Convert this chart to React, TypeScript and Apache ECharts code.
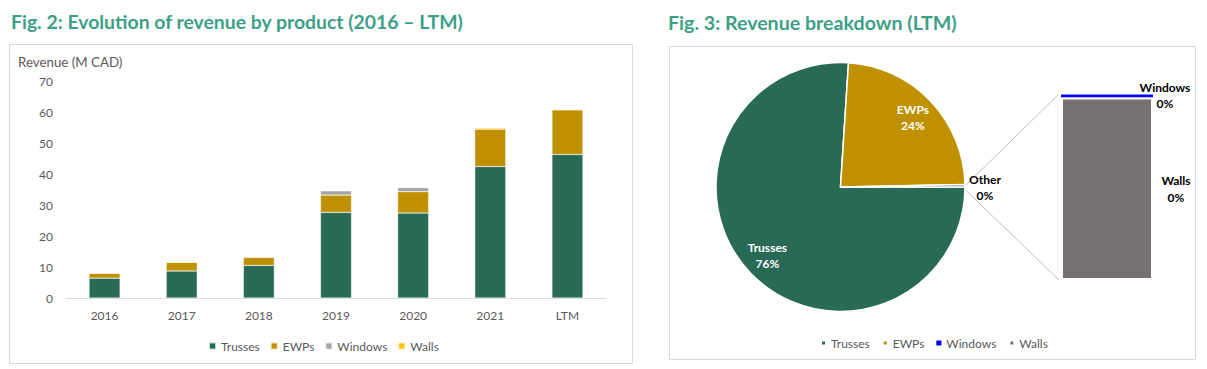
import React, { useEffect, useRef } from "react";
import * as echarts from "echarts";

const categories = ["2016", "2017", "2018", "2019", "2020", "2021", "LTM"];
const trusses = [6.4, 8.7, 10.5, 27.6, 27.4, 42.4, 46.3];
const ewps = [1.6, 2.8, 2.6, 5.6, 6.9, 12.1, 14.4];
const windows = [0.1, 0.1, 0.2, 1.4, 1.3, 0, 0.0033];
const walls = [0, 0, 0, 0, 0.2, 0.4, 0.2];
const seriesNames = ["Trusses", "EWPs", "Windows", "Walls"];
const yTicks = { min: 0, max: 70, interval: 10 };

const FONT = "Lato";
const GREEN = "#286a56";
const GOLD = "#bf9000";
const TITLE = "#3da085";
const AXIS_TEXT = "#595959";

const LTM = categories.indexOf("LTM");
const otherTotal = windows[LTM] + walls[LTM];
const pieTotal = trusses[LTM] + ewps[LTM] + otherTotal;
const pct = (v: number) => Math.round((v / pieTotal) * 100) + "%";

function leftOption(): any {
  const colors = [GREEN, GOLD, "#a5a5a5", "#ffc000"];
  const vals = [trusses, ewps, windows, walls];
  return {
    animation: false,
    title: [
      {
        text: "Fig. 2: Evolution of revenue by product (2016 – LTM)",
        left: 11,
        top: 12,
        padding: 0,
        textStyle: { fontFamily: FONT, fontWeight: "bold", fontSize: 19.4, color: TITLE },
      },
      {
        text: "Revenue (M CAD)",
        left: 18,
        top: 55,
        padding: 0,
        textStyle: { fontFamily: FONT, fontWeight: "normal", fontSize: 13.3, color: AXIS_TEXT },
      },
    ],
    grid: { left: 66, right: 44, top: 81, bottom: 71 },
    xAxis: {
      type: "category",
      data: categories,
      axisLine: { lineStyle: { color: "#d9d9d9" } },
      axisTick: { show: false },
      axisLabel: { color: AXIS_TEXT, fontFamily: FONT, fontSize: 12, margin: 11 },
    },
    yAxis: {
      type: "value",
      min: yTicks.min,
      max: yTicks.max,
      interval: yTicks.interval,
      splitLine: { show: false },
      axisLine: { show: false },
      axisTick: { show: false },
      axisLabel: { color: AXIS_TEXT, fontFamily: FONT, fontSize: 12, margin: 13 },
    },
    legend: {
      data: seriesNames,
      left: 203,
      top: 335,
      icon: "rect",
      itemWidth: 7,
      itemHeight: 7,
      itemGap: 10,
      textStyle: { color: AXIS_TEXT, fontFamily: FONT, fontSize: 12 },
    },
    graphic: [
      {
        type: "rect",
        shape: { x: 9.5, y: 44.5, width: 623, height: 319 },
        style: { fill: "none", stroke: "#d9d9d9", lineWidth: 1 },
        z: -1,
      },
    ],
    series: seriesNames.map((n, i) => ({
      name: n,
      type: "bar",
      stack: "rev",
      barWidth: 31,
      data: vals[i],
      itemStyle: { color: colors[i], borderColor: "rgba(255,255,255,0.7)", borderWidth: 0.5 },
    })),
  };
}

function rightOption(): any {
  const cx = 190.5;
  const cy = 187;
  const r = 124.5;
  const gLeft = 411;
  const gTop = 94.5;
  const gW = 92;
  const gH = 185.5;
  const pieData = [
    { name: "Trusses", value: trusses[LTM], itemStyle: { color: GREEN } },
    { name: "EWPs", value: ewps[LTM], itemStyle: { color: GOLD } },
    { name: "Other", value: otherTotal, itemStyle: { color: "#767171" } },
  ];
  const boldBlack = { fontFamily: FONT, fontWeight: "bold", fontSize: 12, color: "#000", lineHeight: 16.5 };
  return {
    animation: false,
    title: {
      text: "Fig. 3: Revenue breakdown (LTM)",
      left: 18,
      top: 12,
      padding: 0,
      textStyle: { fontFamily: FONT, fontWeight: "bold", fontSize: 19.6, color: TITLE },
    },
    legend: {
      data: seriesNames,
      left: 165,
      top: 332,
      icon: "rect",
      itemWidth: 5,
      itemHeight: 5,
      itemGap: 12,
      textStyle: { color: AXIS_TEXT, fontFamily: FONT, fontSize: 12 },
    },
    grid: { left: gLeft, top: gTop, width: gW, height: gH },
    xAxis: { type: "category", data: ["Other"], show: false },
    yAxis: { type: "value", min: 0, max: otherTotal, show: false },
    graphic: [
      {
        type: "rect",
        shape: { x: 19.5, y: 46.5, width: 526, height: 313 },
        style: { fill: "none", stroke: "#d9d9d9", lineWidth: 1 },
        z: -1,
      },
      {
        type: "line",
        shape: { x1: cx + r + 1, y1: cy - 2, x2: gLeft - 2, y2: gTop - 0.5 },
        style: { stroke: "#bfbfbf", lineWidth: 1 },
      },
      {
        type: "line",
        shape: { x1: cx + r + 1, y1: cy + 3.5, x2: gLeft - 2, y2: gTop + gH },
        style: { stroke: "#bfbfbf", lineWidth: 1 },
      },
    ],
    series: [
      {
        name: "LTM",
        type: "pie",
        center: [cx, cy],
        radius: r,
        startAngle: 0,
        clockwise: true,
        avoidLabelOverlap: false,
        itemStyle: { borderColor: "#fff", borderWidth: 1.5 },
        label: { show: false },
        labelLine: { show: false },
        data: pieData.map((d) =>
          d.name === "Other"
            ? {
                ...d,
                label: {
                  show: true,
                  position: "outside",
                  distanceToLabelLine: 4,
                  padding: [4, 0, 0, 0],
                  formatter: (p: any) => `{a|${p.name}}\n{a|${pct(p.value)}}`,
                  rich: { a: { ...boldBlack, width: 32, align: "center" } },
                },
                labelLine: { show: false, length: 0.01, length2: 0.01 },
              }
            : d
        ),
      },
      {
        name: "LTM labels",
        type: "pie",
        center: [cx, cy],
        radius: [70, r],
        startAngle: 0,
        clockwise: true,
        silent: true,
        legendHoverLink: false,
        itemStyle: { color: "rgba(0,0,0,0)" },
        label: {
          show: true,
          position: "inside",
          formatter: (p: any) => `${p.name}\n${pct(p.value)}`,
          fontFamily: FONT,
          fontWeight: "bold",
          fontSize: 12,
          color: "#fff",
          lineHeight: 16,
        },
        labelLine: { show: false },
        data: pieData.map((d) => ({
          name: d.name,
          value: d.value,
          label: d.name === "Other" ? { show: false } : undefined,
        })),
      },
      {
        name: "Walls",
        type: "bar",
        stack: "o",
        barWidth: gW,
        z: 3,
        data: [walls[LTM]],
        itemStyle: { color: "#767171", borderColor: "#fff", borderWidth: 2 },
        label: {
          show: true,
          position: [115, "50%"],
          align: "center",
          verticalAlign: "middle",
          formatter: (p: any) => `${p.seriesName}\n${pct(p.value)}`,
          ...boldBlack,
        },
      },
      {
        name: "Windows",
        type: "bar",
        stack: "o",
        barWidth: gW,
        z: 2,
        data: [windows[LTM]],
        itemStyle: { color: "#0000ff", borderWidth: 0 },
        label: {
          show: true,
          position: [104, 1],
          align: "center",
          verticalAlign: "middle",
          formatter: (p: any) => `${p.seriesName}\n${pct(p.value)}`,
          ...boldBlack,
        },
      },
    ],
  };
}

export default function App() {
  const leftRef = useRef<HTMLDivElement>(null);
  const rightRef = useRef<HTMLDivElement>(null);
  useEffect(() => {
    const c1 = echarts.init(leftRef.current!, undefined, { renderer: "svg" });
    const c2 = echarts.init(rightRef.current!, undefined, { renderer: "svg" });
    c1.setOption(leftOption());
    c2.setOption(rightOption());
    return () => {
      c1.dispose();
      c2.dispose();
    };
  }, []);
  return (
    <div style={{ position: "absolute", left: 0, top: 0, width: 1207, height: 369, background: "#fff" }}>
      <div ref={leftRef} style={{ position: "absolute", left: 0, top: 0, width: 650, height: 369 }} />
      <div ref={rightRef} style={{ position: "absolute", left: 650, top: 0, width: 557, height: 369 }} />
    </div>
  );
}
